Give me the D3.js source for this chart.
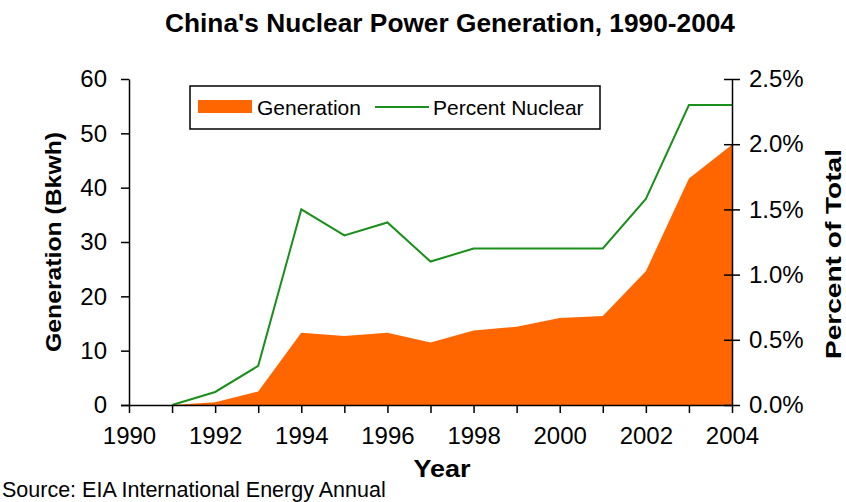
<!DOCTYPE html>
<html>
<head>
<meta charset="utf-8">
<script src="https://cdn.jsdelivr.net/npm/d3@7"></script>
<style>
  html, body { margin: 0; padding: 0; background: #fff; }
  svg { display: block; }
  text { font-family: "Liberation Sans", Arial, sans-serif; fill: #000; }
</style>
</head>
<body>
<svg id="chart" width="846" height="502"></svg>
<script>
// ---- data ----
const years = [1990, 1991, 1992, 1993, 1994, 1995, 1996, 1997, 1998, 1999, 2000, 2001, 2002, 2003, 2004];
const generation = [0, 0, 0.5, 2.5, 13.3, 12.7, 13.3, 11.5, 13.7, 14.4, 16.0, 16.4, 24.6, 41.7, 47.9];
const percentYears = [1991, 1992, 1993, 1994, 1995, 1996, 1997, 1998, 1999, 2000, 2001, 2002, 2003, 2004];
const percentNuclear = [0.0, 0.1, 0.3, 1.5, 1.3, 1.4, 1.1, 1.2, 1.2, 1.2, 1.2, 1.58, 2.3, 2.3];
const xTicks = [1990, 1992, 1994, 1996, 1998, 2000, 2002, 2004];
const yLeftTicks = [0, 10, 20, 30, 40, 50, 60];
const yRightTicks = [0, 0.5, 1.0, 1.5, 2.0, 2.5];
const seriesNames = ["Generation", "Percent Nuclear"];

(function () {
const svg = d3.select("#chart");
const pLeft = 129, pRight = 732, pTop = 79, pBottom = 405;
const orange = "#ff6600", green = "#1b8f1b";

const x = d3.scaleLinear().domain([1990, 2004]).range([pLeft, pRight]);
const yL = d3.scaleLinear().domain([0, 60]).range([pBottom, pTop]);
const yR = d3.scaleLinear().domain([0, 2.5]).range([pBottom, pTop]);

// area
const area = d3.area()
  .x((d, i) => x(years[i]))
  .y0(yL(0))
  .y1(d => yL(d));
svg.append("path").datum(generation)
  .attr("d", area).attr("fill", orange);

// line
const line = d3.line()
  .x((d, i) => x(percentYears[i]))
  .y(d => yR(d));
svg.append("path").datum(percentNuclear)
  .attr("d", line).attr("fill", "none")
  .attr("stroke", green).attr("stroke-width", 2);

// axes
const tickFont = "24px";
const gL = svg.append("g").attr("transform", `translate(${pLeft},0)`)
  .call(d3.axisLeft(yL).tickValues(yLeftTicks).tickSize(8).tickPadding(14).tickSizeOuter(0));
const gR = svg.append("g").attr("transform", `translate(${pRight},0)`)
  .call(d3.axisRight(yR).tickValues(yRightTicks).tickSize(8).tickPadding(9).tickSizeOuter(0)
    .tickFormat(d => d.toFixed(1) + "%"));
gR.selectAll(".tick line").attr("x1", -8);
const gX = svg.append("g").attr("transform", `translate(0,${pBottom})`)
  .call(d3.axisBottom(x).tickValues(d3.range(1990, 2005)).tickSize(8).tickPadding(14).tickSizeOuter(0)
    .tickFormat(d => xTicks.includes(d) ? String(d) : ""));
gX.select(".domain").attr("d", `M${pLeft - 8},0.5H${pRight}`);

[gL, gR, gX].forEach(g => {
  g.selectAll(".domain").attr("stroke", "#000").attr("stroke-width", 1.5);
  g.selectAll(".tick line").attr("stroke", "#000").attr("stroke-width", 1.5);
  g.selectAll(".tick text").style("font-size", tickFont)
    .style("font-family", '"Liberation Sans", Arial, sans-serif').attr("fill", "#000");
});

// title
svg.append("text").attr("x", 450).attr("y", 32).attr("text-anchor", "middle")
  .attr("textLength", 570).attr("lengthAdjust", "spacingAndGlyphs")
  .style("font-family", '"Liberation Sans Narrow", "Liberation Sans", Arial, sans-serif')
  .style("font-weight", "bold").style("font-size", "25px")
  .text("China's Nuclear Power Generation, 1990-2004");

// axis titles
svg.append("text").attr("transform", "translate(61,242) rotate(-90)")
  .attr("text-anchor", "middle").attr("textLength", 220).attr("lengthAdjust", "spacingAndGlyphs")
  .style("font-weight", "bold").style("font-size", "22px")
  .text("Generation (Bkwh)");
svg.append("text").attr("transform", "translate(841,254) rotate(-90)")
  .attr("text-anchor", "middle").attr("textLength", 210).attr("lengthAdjust", "spacingAndGlyphs")
  .style("font-weight", "bold").style("font-size", "22px")
  .text("Percent of Total");
svg.append("text").attr("x", 442).attr("y", 477).attr("text-anchor", "middle")
  .attr("textLength", 57).attr("lengthAdjust", "spacingAndGlyphs")
  .style("font-weight", "bold").style("font-size", "24px")
  .text("Year");

// source
svg.append("text").attr("x", 2).attr("y", 497)
  .style("font-size", "21.5px")
  .text("Source: EIA International Energy Annual");

// legend
const lg = svg.append("g");
lg.append("rect").attr("x", 190).attr("y", 86).attr("width", 410).attr("height", 43)
  .attr("fill", "#fff").attr("stroke", "#000").attr("stroke-width", 1.5);
lg.append("rect").attr("x", 198).attr("y", 100).attr("width", 54).attr("height", 13).attr("fill", orange);
lg.append("text").attr("x", 257).attr("y", 115).style("font-size", "21px").text(seriesNames[0]);
lg.append("line").attr("x1", 375).attr("x2", 429).attr("y1", 107).attr("y2", 107)
  .attr("stroke", green).attr("stroke-width", 2);
lg.append("text").attr("x", 433).attr("y", 115).style("font-size", "21px").text(seriesNames[1]);
})();
</script>
</body>
</html>
